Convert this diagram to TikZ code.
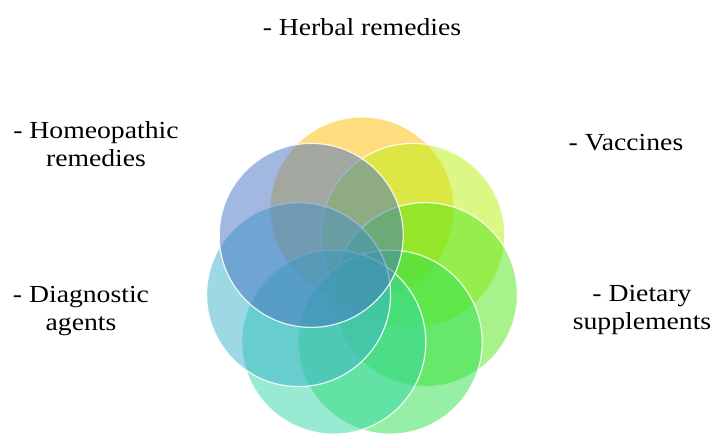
\documentclass[tikz,border=0pt]{standalone}
\usepackage{fontspec}
\setmainfont[FakeStretch=1.13]{Liberation Serif}
\usetikzlibrary{positioning}

\definecolor{petalorange}{RGB}{255,188,0}
\definecolor{petallime}{RGB}{185,239,9}
\definecolor{petalgreen}{RGB}{79,229,21}
\definecolor{petalleaf}{RGB}{43,223,75}
\definecolor{petalmint}{RGB}{49,213,165}
\definecolor{petalcyan}{RGB}{59,177,201}
\definecolor{petalblue}{RGB}{69,113,193}

\begin{document}
\begin{tikzpicture}
[x=1pt, y=-1pt,
petal/.style ={circle, minimum size=184pt, inner sep=0pt,
fill opacity=0.5, draw=white, draw opacity=0.85, line width=1.2pt},
label/.style ={inner sep=0pt, align=center, text=black,
font=\fontsize{24.5}{28}\selectfont}]

\useasboundingbox (0,0) rectangle (714,436);

% ring of circles, clockwise from the top
\node (herbal) [petal, fill=petalorange] at (362,209) {};
\node (vacc) [petal, fill=petallime] at (412.8,235.4) {};
\node (diet) [petal, fill=petalgreen] at (425.4,294.6) {};
\node (dietlow) [petal, fill=petalleaf] at (390.2,342.1) {};
\node (diaglow) [petal, fill=petalmint] at (333.8,342.1) {};
\node (diag) [petal, fill=petalcyan] at (298.6,294.6) {};
\node (homeo) [petal, fill=petalblue] at (311.2,235.4) {};

% texts
\node (herbaltxt) [label] at (362,27) {- Herbal remedies};
\node (homeotxt) [label] at (96,144) {- Homeopathic\\remedies};
\node (vacctxt) [label] at (626,143) {- Vaccines};
\node (diagtxt) [label] at (81,311) {- Diagnostic\\agents};
\node (diettxt) [label] at (642,310) {- Dietary\\supplements};
\end{tikzpicture}
\end{document}
